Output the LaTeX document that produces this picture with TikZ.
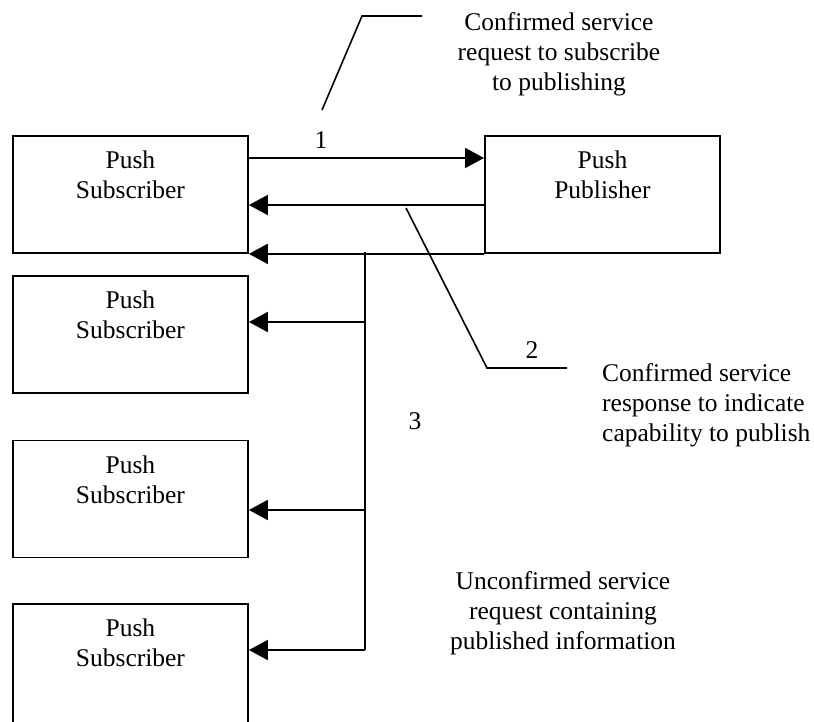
\documentclass[tikz,border=0pt]{standalone}
\usepackage{fontspec}
\setmainfont{Liberation Serif}
\usetikzlibrary{arrows.meta,calc}
\begin{document}
\begin{tikzpicture}[x=1pt,y=-1pt,
  box/.style={draw,line width=1.9pt,minimum width=235pt,minimum height=117pt,anchor=north west,inner sep=0pt},
  lbl/.style={font=\fontsize{25.5}{30}\selectfont,align=center,inner sep=0pt},
  conn/.style={line width=1.9pt},
  arr/.style={conn,-{Triangle[length=19pt,width=20pt]}}]
\useasboundingbox (0,0) rectangle (814,721);
% boxes
\node[box] (sub1) at (12,135) {};
\node[box] (pub) at (484,135) {};
\node[box] (sub2) at (12,275) {};
\node[box] (sub3) at (12,439.5) {};
\node[box,minimum height=130pt] (sub4) at (12,603) {};
% box texts
\node[lbl,anchor=north] (t1) at ($(sub1.north)+(0,16)$) {Push\\Subscriber};
\node[lbl,anchor=north] (tp) at ($(pub.north)+(0,16)$) {Push\\Publisher};
\node[lbl,anchor=north] (t2) at ($(sub2.north)+(0,16)$) {Push\\Subscriber};
\node[lbl,anchor=north] (t3) at ($(sub3.north)+(0,16)$) {Push\\Subscriber};
\node[lbl,anchor=north] (t4) at ($(sub4.north)+(0,16)$) {Push\\Subscriber};
% connector rows
\coordinate (r1) at (0,158);
\coordinate (r2) at (0,205);
\draw[arr] (sub1.east |- r1) -- (pub.west |- r1);
\draw[arr] (pub.west |- r2) -- (sub1.east |- r2);
\draw[arr] (pub.south west) -- (sub1.south east);
% bus
\coordinate (bus) at (365,252);
\coordinate (b2) at (365,322);
\coordinate (b3) at (365,510);
\coordinate (b4) at (365,650);
\draw[conn] (bus) -- (b4);
\draw[arr] (b2) -- (sub2.east |- b2);
\draw[arr] (b3) -- (sub3.east |- b3);
\draw[arr] (b4) -- (sub4.east |- b4);
% leader lines
\coordinate (l1a) at (322,110);
\coordinate (l1b) at (362,16);
\coordinate (l1c) at (422,16);
\draw[line width=1.6pt] (l1a) -- (l1b) -- (l1c);
\coordinate (l2a) at (406,208);
\coordinate (l2b) at (487,368);
\coordinate (l2c) at (567,368);
\draw[line width=1.6pt] (l2a) -- (l2b) -- (l2c);
% numbers
\node[lbl] (n1) at (321,140) {1};
\node[lbl] (n2) at (532,350) {2};
\node[lbl] (n3) at (415,421) {3};
% annotations
\node[lbl,anchor=north] (a1) at (559,12) {Confirmed service\\request to subscribe\\to publishing};
\node[lbl,align=left,anchor=north west] (a2) at (602,363.5) {Confirmed service\\response to indicate\\capability to publish};
\node[lbl,anchor=north] (a3) at (563,571.5) {Unconfirmed service\\request containing\\published information};
\end{tikzpicture}
\end{document}
